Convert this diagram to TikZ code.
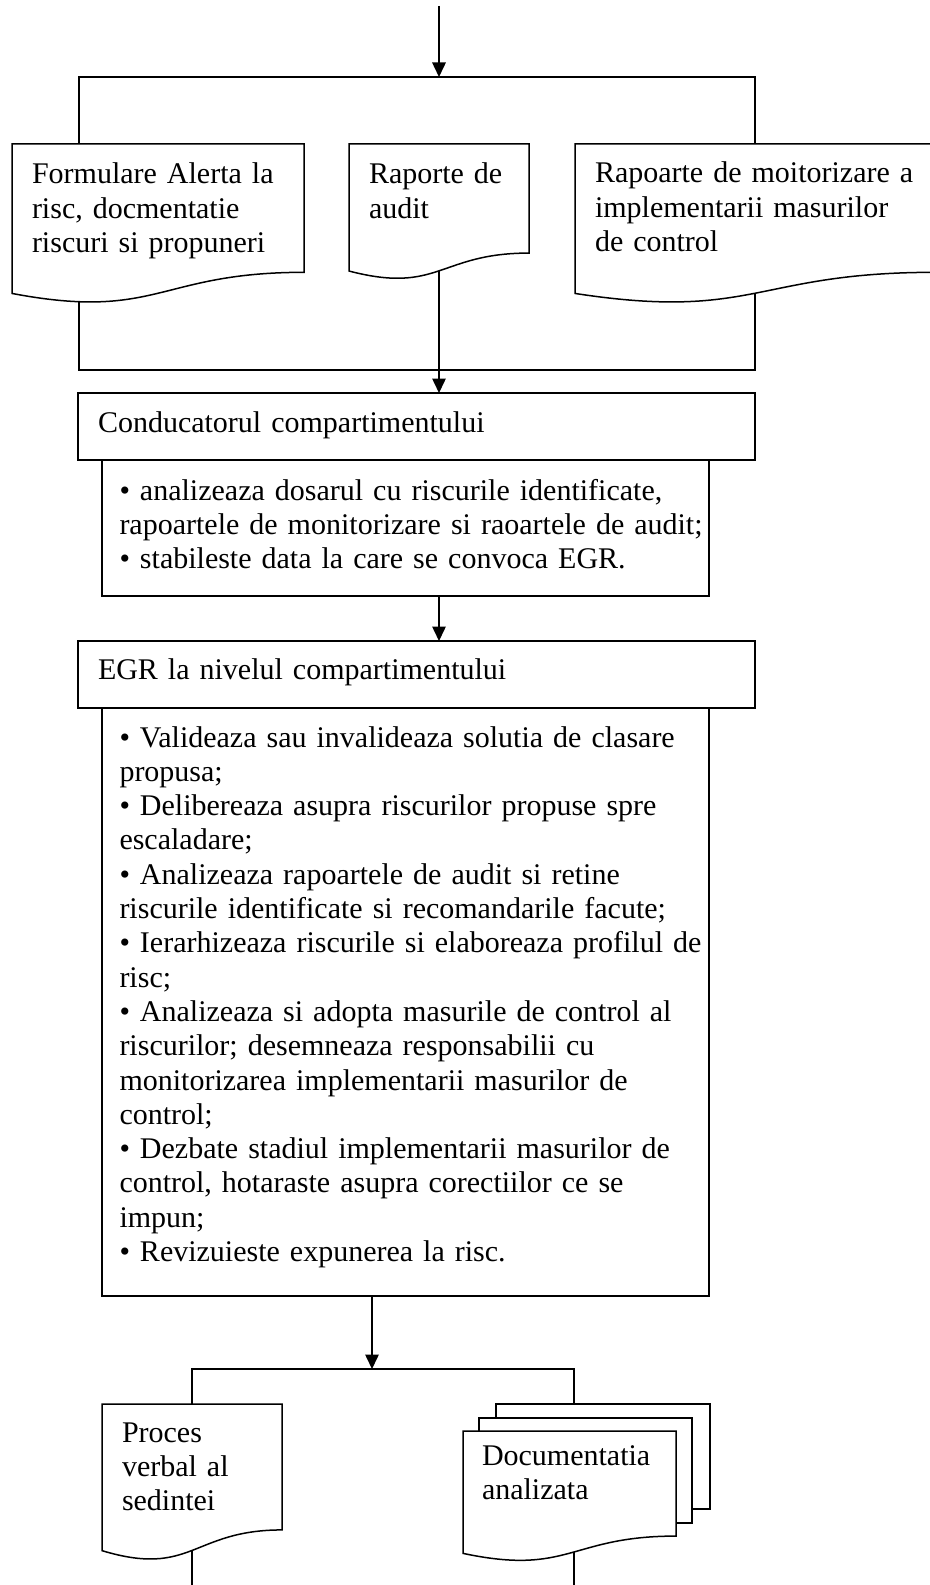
\documentclass[tikz,border=0pt]{standalone}
\usepackage{fontspec}
\setmainfont{Liberation Serif}[WordSpace=0.8]
\usetikzlibrary{arrows.meta,positioning,calc}
\pgfdeclarelayer{back}
\pgfdeclarelayer{sheets}
\pgfsetlayers{back,sheets,main}
\newcommand\docsheet[1]{\draw[sheet] (#1.north west) -- (#1.north east) -- ($(#1.north east)!0.802!(#1.south east)$)
  .. controls ($(#1.north)!0.802!(#1.south)$) and ($(#1.north)!1.107!(#1.south)$) .. ($(#1.north west)!0.934!(#1.south west)$) -- cycle;}

\begin{document}
\begin{tikzpicture}[x=0.4pt,y=-0.4pt,font=\fontsize{12}{13.72}\selectfont,line/.style={line width=0.6pt},arrow/.style={line,-{Triangle[length=5.8pt,width=5.4pt]}},box/.style={draw,line width=0.7pt,anchor=north west,inner xsep=8pt,inner ysep=0pt,outer sep=0pt,align=left,text height=15.6pt,execute at begin node={\rightskip=0pt plus 1fil minus 30pt}},doctext/.style={anchor=north west,inner xsep=8pt,inner ysep=0pt,outer sep=0pt,align=left,text height=15.6pt,execute at begin node={\rightskip=0pt plus 1fil minus 30pt}},sheet/.style={draw,fill=white,line width=0.6pt}]
 \useasboundingbox (0,0) rectangle (929,1585);
 \coordinate (in) at (439,6); \coordinate (split) at (439,77); \coordinate (join) at (439,370);
 \coordinate (split2) at (372,1369); \coordinate (out) at (439,1585);
 \node[doctext,text width=100.8pt,text height=16pt,text depth=48pt] (d1) at (12,144) {Formulare Alerta la\\risc, docmentatie\\riscuri si propuneri};
 \node[doctext,text width=56pt,text height=16pt,text depth=38.4pt] (d2) at (349,144) {Raporte de\\audit};
 \node[doctext,text width=128pt,text depth=48.4pt] (d3) at (575,144) {Rapoarte de moitorizare a\\implementarii masurilor\\de control};
 \node[box,text width=254.8pt,text depth=11.2pt] (c1) at (78,393) {Conducatorul compartimentului};
 \node[box,inner xsep=7pt,text width=228.8pt,text height=16pt,text depth=38.4pt,below right=0pt and 9.6pt of c1.south west] (c2) {• analizeaza dosarul cu riscurile identificate,\\rapoartele de monitorizare si raoartele de audit;\\• stabileste data la care se convoca EGR.};
 \node[box,text width=254.8pt,text height=15.2pt,text depth=11.6pt] (e1) at (78,641) {EGR la nivelul compartimentului};
 \node[box,inner xsep=7pt,text width=228.8pt,text depth=219.6pt,below right=0pt and 9.6pt of e1.south west] (e2) {• Valideaza sau invalideaza solutia de clasare\\propusa;\\• Delibereaza asupra riscurilor propuse spre\\escaladare;\\• Analizeaza rapoartele de audit si retine\\riscurile identificate si recomandarile facute;\\• Ierarhizeaza riscurile si elaboreaza profilul de\\risc;\\• Analizeaza si adopta masurile de control al\\riscurilor; desemneaza responsabilii cu\\monitorizarea implementarii masurilor de\\control;\\• Dezbate stadiul implementarii masurilor de\\control, hotaraste asupra corectiilor ce se\\impun;\\• Revizuieste expunerea la risc.};
 \node[doctext,text width=56pt,text height=15.2pt,text depth=47.6pt] (pv) at (102,1404) {Proces\\verbal al\\sedintei};
 \node[doctext,inner xsep=7.6pt,text width=70pt,text height=13.6pt,text depth=38.8pt] (da) at (463,1431) {Documentatia\\analizata};
 \begin{pgfonlayer}{back}
  \draw[arrow] (in) -- (split);
  \draw[line] ([xshift=26.8pt]d1.north west) |- (split) -| (d3.north);
  \draw[line] ([xshift=26.8pt]d1.west) |- (join) -| (d3.center);
  \draw[arrow] (d2.center) -- (d2.center |- c1.north);
  \draw[arrow] (c2.south -| in) -- (e1.north -| in);
  \draw[arrow] (e2.south -| split2) -- (split2);
  \draw[line] (pv.center) |- (split2) -| ([xshift=1.8pt]da.center);
  \draw[line] (pv.center) -- (pv.center |- out);
  \draw[line] ([xshift=1.8pt]da.center) -- ([xshift=1.8pt]da.center |- out);
 \end{pgfonlayer}
 \begin{pgfonlayer}{sheets}
  \docsheet{d1} \docsheet{d2} \docsheet{d3} \docsheet{pv}
  \draw[sheet] ([shift={(33,-27)}]da.north west) rectangle ([shift={(34,78)}]da.north east);
  \draw[sheet] ([shift={(16,-13)}]da.north west) rectangle ([shift={(16,92)}]da.north east);
  \docsheet{da}
 \end{pgfonlayer}
\end{tikzpicture}
\end{document}
